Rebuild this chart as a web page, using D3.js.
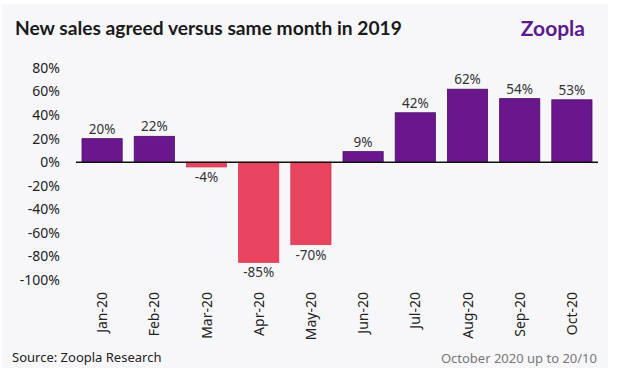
<!DOCTYPE html>
<html><head><meta charset="utf-8">
<script src="https://cdn.jsdelivr.net/npm/d3@7"></script>
<style>body{margin:0;background:#fff;}svg{display:block;}</style>
</head><body>
<script>
const categories = ["Jan-20","Feb-20","Mar-20","Apr-20","May-20","Jun-20","Jul-20","Aug-20","Sep-20","Oct-20"];
const values = [20,22,-4,-85,-70,9,42,62,54,53];
const yTicks = [80,60,40,20,0,-20,-40,-60,-80,-100];
const title = "New sales agreed versus same month in 2019";
const source = "Source: Zoopla Research";
const note = "October 2020 up to 20/10";

const W = 634, H = 371;
const svg = d3.select("body").append("svg").attr("width", W).attr("height", H);
svg.append("rect").attr("x", 2).attr("y", 4).attr("width", 606).attr("height", 364).attr("fill", "#f7f7fa");

const x = d3.scaleBand().domain(categories).range([76, 598]).paddingInner(0.23).paddingOuter(0.115);
const y = d3.scaleLinear().domain([-100, 80]).range([280, 68]);

svg.append("text").attr("x", 15).attr("y", 35).text(title)
  .attr("font-family", "Lato").attr("font-weight", 700).attr("font-size", 19.2).attr("fill", "#1a1a1a");
svg.append("text").attr("x", 585).attr("y", 36).attr("text-anchor", "end").text("Zoopla")
  .attr("font-family", "Lato").attr("font-weight", 700).attr("font-size", 21).attr("fill", "#5b1a8e");

// y axis labels
svg.append("g").selectAll("text").data(yTicks).join("text")
  .attr("x", 60).attr("y", d => y(d)).attr("dy", "0.35em").attr("text-anchor", "end")
  .attr("font-family", "Noto Sans").attr("font-size", 14).attr("fill", "#222")
  .text(d => d + "%");

// bars
svg.append("g").selectAll("rect").data(values).join("rect")
  .attr("x", (d, i) => x(categories[i]))
  .attr("width", x.bandwidth())
  .attr("y", d => y(Math.max(0, d)))
  .attr("height", d => Math.abs(y(d) - y(0)))
  .attr("fill", d => d >= 0 ? "#6a168d" : "#e9445f")
  .attr("stroke", d => d >= 0 ? "#4a0e66" : "#d8354f")
  .attr("stroke-width", 0.8);

// zero line
svg.append("line").attr("x1", 76).attr("x2", 598).attr("y1", y(0)).attr("y2", y(0))
  .attr("stroke", "#111").attr("stroke-width", 1.5);

// value labels
svg.append("g").selectAll("text").data(values).join("text")
  .attr("x", (d, i) => x(categories[i]) + x.bandwidth() / 2)
  .attr("y", d => d >= 0 ? y(d) - 5 : y(d) + 15)
  .attr("text-anchor", "middle")
  .attr("font-family", "Noto Sans").attr("font-size", 13.5).attr("fill", "#333")
  .text(d => d + "%");

// x labels
svg.append("g").selectAll("text").data(categories).join("text")
  .attr("transform", d => `translate(${x(d) + x.bandwidth() / 2 + 5},292) rotate(-90)`)
  .attr("text-anchor", "end")
  .attr("font-family", "Noto Sans").attr("font-size", 14).attr("fill", "#222")
  .text(d => d);

svg.append("text").attr("x", 12).attr("y", 362).text(source)
  .attr("font-family", "Noto Sans").attr("font-size", 13).attr("fill", "#222");
svg.append("text").attr("x", 597).attr("y", 363).attr("text-anchor", "end").text(note)
  .attr("font-family", "Noto Sans").attr("font-size", 13).attr("fill", "#777");
</script>
</body></html>
